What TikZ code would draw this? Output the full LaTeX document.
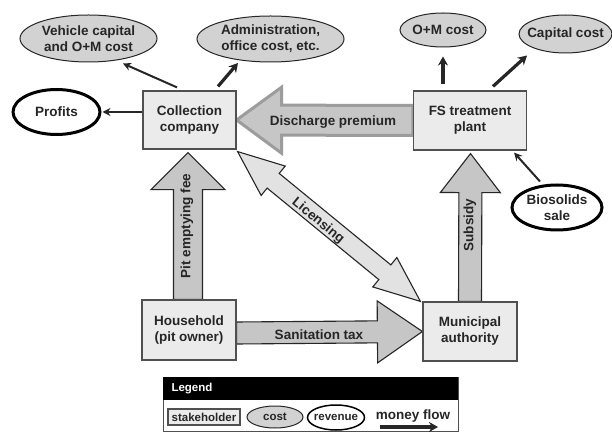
\documentclass[tikz,border=0pt]{standalone}
\usepackage{fontspec}
\setmainfont{Liberation Sans}
\usetikzlibrary{shapes.geometric,arrows.meta,calc}
\definecolor{boxfill}{HTML}{EBEBEB}
\definecolor{boxline}{HTML}{505050}
\definecolor{costfill}{HTML}{D2D2D2}
\definecolor{arrfill}{HTML}{C6C6C6}
\definecolor{licfill}{HTML}{E2E2E2}
\definecolor{dpline}{HTML}{9C9C9C}
\definecolor{ink}{HTML}{262626}
\pgfdeclarelayer{bg}
\pgfsetlayers{bg,main}
\newcommand{\blockarrow}[6][]{%
  \path let \p1=#2, \p2=#3, \n1={atan2(\y2-\y1,\x2-\x1)}, \n2={veclen(\x2-\x1,\y2-\y1)} in
    \pgfextra{\pgfmathsetmacro\BAtmpa{\n1}\pgfmathsetmacro\BAtmpb{\n2}\xdef\BAang{\BAtmpa}\xdef\BAlen{\BAtmpb}};
  \draw[#1, shift={#2}, rotate=\BAang]
    (0pt,#4pt) -- ({\BAlen pt-#6pt},#4pt) -- ({\BAlen pt-#6pt},#5pt) -- (\BAlen pt,0pt)
    -- ({\BAlen pt-#6pt},-#5pt) -- ({\BAlen pt-#6pt},-#4pt) -- (0pt,-#4pt) -- cycle;
}
\newcommand{\dblockarrow}[6][]{%
  \path let \p1=#2, \p2=#3, \n1={atan2(\y2-\y1,\x2-\x1)}, \n2={veclen(\x2-\x1,\y2-\y1)} in
    \pgfextra{\pgfmathsetmacro\BAtmpa{\n1}\pgfmathsetmacro\BAtmpb{\n2}\xdef\BAang{\BAtmpa}\xdef\BAlen{\BAtmpb}};
  \draw[#1, shift={#2}, rotate=\BAang]
    (0pt,0pt) -- (#6pt,#5pt) -- (#6pt,#4pt) -- ({\BAlen pt-#6pt},#4pt) -- ({\BAlen pt-#6pt},#5pt) -- (\BAlen pt,0pt)
    -- ({\BAlen pt-#6pt},-#5pt) -- ({\BAlen pt-#6pt},-#4pt) -- (#6pt,-#4pt) -- (#6pt,-#5pt) -- cycle;
}
\tikzset{
  main/.style={font=\bfseries\fontsize{13.5}{16}\selectfont, text=ink},
  stake/.style={main, draw=boxline, line width=1.2pt, fill=boxfill, align=center, inner sep=0pt},
  costel/.style={ellipse, draw=ink, line width=1pt, fill=costfill, inner sep=0pt},
  revel/.style={ellipse, draw=black, line width=3pt, fill=white, inner sep=0pt},
  ellabel/.style={main, align=center},
  blk/.style={fill=arrfill, draw=ink, line width=1.1pt, line join=miter},
  lic/.style={fill=licfill, draw=ink, line width=1.1pt, line join=miter},
  dprem/.style={fill=arrfill, draw=dpline, line width=3pt, line join=miter},
  flow/.style={draw=ink, line width=2pt, -{Stealth[length=8pt,width=8pt]}},
  flowthick/.style={draw=ink, line width=3.2pt, -{Stealth[length=9pt,width=10pt]}},
  leg/.style={font=\bfseries\fontsize{11.5}{13}\selectfont, text=ink},
}
\begin{document}
\begin{tikzpicture}[x=1pt,y=-1pt]
\useasboundingbox (0,0) rectangle (612,435);

% stakeholders
\node[stake, minimum width=93, minimum height=58] (cc) at (189.5,120) {Collection\\company};
\node[stake, minimum width=113, minimum height=59] (fs) at (470,120.5) {FS treatment\\plant};
\node[stake, minimum width=94, minimum height=60] (hh) at (189,330) {Household\\(pit owner)};
\node[stake, minimum width=94, minimum height=59] (ma) at (470,331.5) {Municipal\\authority};

% costs
\node[costel, minimum width=137, minimum height=47,
  label={[ellabel]center:{Vehicle capital\\and O+M cost}}] (veh) at (88.5,38.5) {};
\node[costel, minimum width=147, minimum height=46,
  label={[ellabel]center:{Administration,\\office cost, etc.}}] (adm) at (270.5,39) {};
\node[costel, minimum width=86, minimum height=34,
  label={[ellabel]center:{O+M cost}}] (om) at (443,30) {};
\node[costel, minimum width=93, minimum height=38,
  label={[ellabel]center:{Capital cost}}] (cap) at (565.5,34) {};

% revenues
\node[revel, minimum width=87, minimum height=45,
  label={[ellabel]center:{Profits}}] (prof) at (56.5,112) {};
\node[revel, minimum width=90, minimum height=45,
  label={[ellabel]center:{Biosolids\\sale}}] (bio) at (557,207.5) {};

% block arrows (money flows)
\begin{pgfonlayer}{bg}
\fill[white] (0,0) rectangle (612,435);
\blockarrow[dprem]{(fs.west)}{(cc.east)}{15}{33}{45}
\blockarrow[blk]{($(hh.north)+(-1,0)$)}{($(cc.south)+(-1.5,3)$)}{14.5}{37}{37}
\blockarrow[blk]{(ma.north)}{($(fs.south)+(0.5,3)$)}{11.5}{30}{39}
\blockarrow[blk]{($(hh.east)+(0,3)$)}{(ma.west)}{11}{31}{45}
\dblockarrow[lic]{($(cc.south east)+(1,2)$)}{($(ma.north west)+(-2,0)$)}{9.5}{19}{46}
\end{pgfonlayer}

\node[main] (dplbl) at (333,122) {Discharge premium};
\node[main, rotate=90] (pitlbl) at (187,226) {Pit emptying fee};
\node[main, rotate=90] (sublbl) at (470,225) {Subsidy};
\node[main] (sanlbl) at (319,335) {Sanitation tax};
\node[main, rotate=-39.3] (liclbl) at (318,221) {Licensing};

% simple flows
\draw[flow] ($(cc.north)+(-12.5,-3)$) -- ($(veh.south)+(34.5,1)$);
\draw[flowthick] ($(cc.north)+(28.5,-4)$) -- ($(adm.south)+(-32.5,0.5)$);
\draw[flow] ($(cc.west)+(0,-8)$) -- ($(prof.east)+(1,0)$);
\draw[flowthick] ($(fs.north)+(-27,-6)$) -- ($(om.south)+(0,9)$);
\draw[flowthick] ($(fs.north)+(23,-4)$) -- ($(cap.south)+(-38.5,2)$);
\draw[flow] ($(bio.north)+(-17,-2)$) -- ($(fs.south east)+(-13,2)$);

% legend
\node[draw=boxline, line width=1pt, minimum width=295, minimum height=54, anchor=north west, inner sep=0pt] (legbox) at (163,377) {};
\node[fill=black, minimum width=295, minimum height=23, anchor=north west, inner sep=0pt] (leghead) at (163,377) {};
\node[leg, text=white, anchor=west] (legtitle) at (168,388.5) {Legend};
\node[leg, draw=boxline, line width=1.2pt, fill=boxfill, minimum width=72, minimum height=16, inner sep=0pt] (legstake) at (204,417) {stakeholder};
\node[costel, minimum width=56, minimum height=22,
  label={[leg]center:{cost}}] (legcost) at (275,417) {};
\node[ellipse, draw=black, line width=1.5pt, fill=white, inner sep=0pt, minimum width=57, minimum height=25,
  label={[leg]center:{revenue}}] (legrev) at (336,417.5) {};
\node[main, fill=none] (legmoney) at (413,416) {money flow};
\coordinate (lma) at (380,427);
\coordinate (lmb) at (438,427);
\draw[flowthick] (lma) -- (lmb);
\end{tikzpicture}
\end{document}
